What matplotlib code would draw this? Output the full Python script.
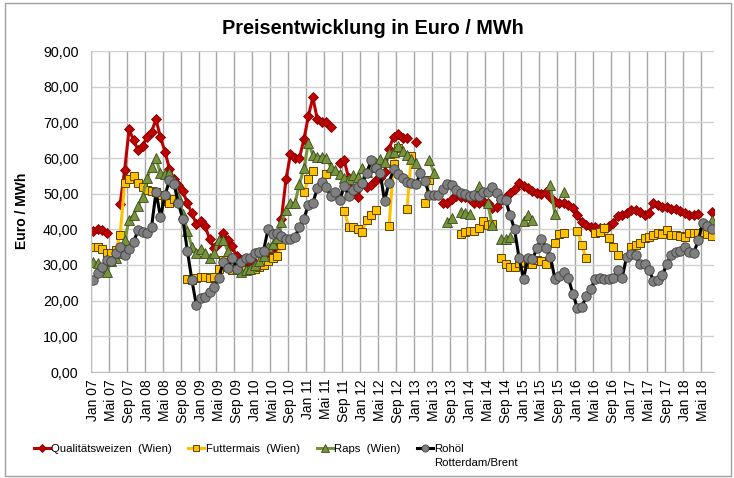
import matplotlib
matplotlib.use("Agg")
import matplotlib.pyplot as plt
import numpy as np
from matplotlib.patches import Rectangle

plt.rcParams['font.family'] = ['Liberation Sans', 'DejaVu Sans']

nan = np.nan

# month labels every 4 months, Jan 07 .. Mai 18
tick_labels = []
for yy in range(7, 19):
    for mm in ["Jan", "Mai", "Sep"]:
        tick_labels.append("%s %02d" % (mm, yy))
tick_labels = tick_labels[:35]

# Qualitätsweizen (Wien), monthly from Jan 07
weizen = [
    39.5, 40.0, 39.8, 38.9, nan, nan, 47.1, 56.6, 68.0, 65.0, 62.2, 63.5,
    65.8, 67.4, 70.8, 65.8, 61.8, 57.0, 54.0, 52.3, 50.7, 47.3, 44.5, 41.4,
    42.4, 40.8, 37.2, 34.7, 36.1, 39.1, 37.0, 35.2, 32.4, 31.3, 31.0, 30.5,
    30.5, 30.0, 30.5, 31.5, 33.0, 35.0, 43.0, 54.0, 61.0, 60.0, 60.0, 65.2,
    71.8, 77.0, 70.8, 70.0, 70.0, 68.6, nan, 58.7, 59.3, 54.3, 50.6, 49.0,
    53.1, 52.0, 52.4, 53.8, 54.5, 56.0, 62.5, 66.0, 66.6, 65.5, 65.5, nan,
    64.4, nan, nan, nan, nan, nan, 47.3, 47.5, 48.5, 49.3, 49.0, 49.2,
    48.4, 47.3, 47.3, 48.0, 47.3, 46.0, 46.3, 48.2, 49.2, 50.3, 51.3, 52.9,
    52.2, 51.6, 50.8, 50.2, 49.8, 50.6, 49.2, 47.8, 47.4, 47.3, 46.9, 45.9,
    44.0, 42.1, 41.3, 40.7, 40.6, 40.5, 40.5, 41.0, 41.7, 43.7, 44.0, 44.7,
    45.5, 45.5, 44.8, 44.0, 44.5, 47.3, 46.8, 46.4, 46.2, 45.8, 45.6, 45.2,
    44.6, 44.1, 44.0, 44.2, nan, nan, 44.8,
]

# Futtermais (Wien)
mais = [
    35.1, 35.0, 34.5, 33.5, 33.3, 34.3, 38.3, 53.0, 54.0, 55.0, 52.9, 52.0,
    51.0, 50.8, 50.5, 49.5, 48.0, 47.3, 48.5, nan, nan, 26.0, 25.8, 26.3,
    26.5, 26.5, 26.3, 26.5, 28.8, 31.4, 29.5, 28.5, 28.5, 28.3, 28.5, 28.5,
    29.0, 29.5, 30.0, 31.0, 32.0, 32.5, 35.6, nan, nan, nan, nan, 50.5,
    54.0, 56.3, nan, nan, 55.5, nan, nan, nan, 45.2, 40.7, 40.7, 40.0,
    39.3, 42.6, 44.0, 45.4, nan, nan, 40.8, 58.3, 62.7, nan, 45.6, 60.5,
    nan, nan, 47.3, 53.8, nan, nan, nan, nan, nan, nan, 38.7, 39.3,
    39.4, 39.5, 40.3, 42.4, 41.2, 41.4, nan, 32.0, 30.2, 29.5, 29.4, 30.5,
    30.9, 30.2, 30.3, 31.4, 31.0, 30.4, nan, 36.2, 38.7, 38.9, nan, nan,
    39.6, 35.6, 31.9, nan, 38.9, 39.3, 40.3, 37.5, 35.1, 32.8, nan, nan,
    35.1, 35.5, 36.1, 37.5, 37.8, 38.3, 38.9, 38.7, 39.8, 38.4, 38.4, 38.2,
    37.9, 39.1, 38.9, 39.1, 39.2, 38.8, 38.1,
]

# Raps (Wien)
raps = [
    30.9, 30.6, 29.2, 28.1, 31.0, 32.0, 33.3, 37.0, 42.6, 44.0, 46.6, 49.2,
    54.3, 57.6, 59.9, 55.7, 55.5, 55.7, 53.5, 49.0, 44.3, 39.5, 35.0, 33.3,
    34.5, 33.3, 31.9, 33.3, 37.1, 37.0, 34.0, 31.5, 28.8, 28.1, 28.5, 29.0,
    30.0, 31.0, 32.5, 35.0, 36.0, 37.5, 42.0, 45.4, 47.3, 47.3, 52.7, 57.1,
    64.3, 60.8, 60.4, 60.4, 59.9, 57.5, 56.5, 55.5, 54.5, 54.0, 55.2, 54.8,
    57.1, 56.0, 57.5, 58.5, 59.8, 59.0, 61.5, 61.7, 63.3, 62.0, 60.8, 59.8,
    58.5, nan, nan, 59.3, 55.9, nan, nan, 42.1, 43.1, nan, 45.0, 44.5,
    44.3, nan, 52.2, nan, 47.5, 41.2, nan, 37.2, 37.2, 37.9, nan, nan,
    42.4, 44.0, 42.6, nan, nan, nan, 52.4, 44.3, nan, 50.6, nan, nan,
    nan, nan, nan, nan, nan, nan, nan, nan, nan, nan, nan, nan,
    nan, nan, nan, nan, nan, nan, nan, nan, nan, nan, nan, nan,
    nan, nan, nan, nan, nan, nan, 42.6,
]

# Rohöl Rotterdam/Brent
oel = [
    25.8, 27.7, 29.5, 31.3, 31.0, 33.3, 35.1, 32.8, 34.6, 36.5, 39.7, 39.3,
    39.0, 40.6, 50.5, 43.5, 49.5, 53.7, 52.8, 47.3, 42.8, 34.0, 25.8, 18.8,
    20.7, 21.1, 22.5, 23.9, 26.4, 30.8, 29.1, 32.0, 29.0, 30.8, 32.0, 32.0,
    33.5, 33.7, 34.0, 40.0, 38.8, 39.0, 38.0, 37.4, 37.2, 37.9, 40.6, 43.0,
    46.8, 47.4, 51.5, 53.3, 51.8, 49.3, 50.6, 48.2, 52.1, 49.3, 51.0, 52.0,
    52.9, 55.7, 59.3, 57.1, 55.9, 48.0, 53.1, 56.8, 55.5, 54.3, 53.4, 53.0,
    52.6, 55.9, 53.6, 49.6, 49.6, 49.6, 51.2, 52.7, 52.4, 51.0, 50.1, 49.9,
    49.3, 49.5, 49.3, 50.6, 50.6, 51.8, 50.1, 48.4, 48.2, 44.0, 40.0, 32.0,
    26.2, 31.9, 31.6, 34.7, 37.4, 34.7, 32.3, 26.2, 27.0, 28.0, 26.3, 22.0,
    18.0, 18.3, 21.2, 23.3, 26.0, 26.3, 26.0, 26.2, 26.3, 28.5, 26.4, 32.3,
    33.2, 32.8, 30.3, 30.3, 28.6, 25.6, 25.9, 27.2, 30.4, 32.7, 33.6, 34.0,
    35.0, 33.6, 33.5, 36.9, 41.9, 40.8, 40.0,
]

x = np.arange(len(oel))

fig = plt.figure(figsize=(7.34, 4.78), dpi=100)
ax = fig.add_axes([91/734, 1-372/478, 623/734, 321/478])

ax.plot(x, weizen, color="#C00000", lw=2.2, marker="D", ms=5.3,
        mfc="#C00000", mec="#7A0000", mew=0.6, label="Qualitätsweizen  (Wien)")
ax.plot(x, mais, color="#FFC000", lw=2.2, marker="s", ms=6.2,
        mfc="#FFC000", mec="#5A4400", mew=0.7, label="Futtermais  (Wien)")
ax.plot(x, raps, color="#77933C", lw=2.2, marker="^", ms=6.8,
        mfc="#77933C", mec="#3C4A1E", mew=0.6, label="Raps  (Wien)")
ax.plot(x, oel, color="black", lw=2.2, marker="o", ms=6.8,
        mfc="#808080", mec="#404040", mew=0.6, label="Rohöl")

ax.set_xlim(-0.5, len(oel) - 0.5)
ax.set_ylim(0, 90)
ax.set_yticks(np.arange(0, 91, 10))
ax.set_yticklabels(["%d,00" % v for v in range(0, 91, 10)], fontsize=10.3)
ax.set_xticks(np.arange(0, len(oel), 4))
ax.set_xticklabels(tick_labels, rotation=90, fontsize=10)
ax.set_xticks(np.arange(-0.5, len(oel) - 1, 4), minor=True)
ax.tick_params(axis="both", which="both", length=0)
ax.tick_params(axis="x", pad=5)
ax.tick_params(axis="y", pad=9)

ax.grid(False)
ax.grid(True, which="minor", axis="x", color="#A6A6A6", lw=1)
ax.grid(True, which="major", axis="y", color="#D0D0D0", lw=1)
ax.set_axisbelow(True)
for side in ["top", "right"]:
    ax.spines[side].set_visible(False)
for side in ["left", "bottom"]:
    ax.spines[side].set_color("#BFBFBF")

fig.text(373/734, 1-28/478, "Preisentwicklung in Euro / MWh", ha="center",
         va="center", fontsize=14.3, fontweight="bold")
fig.text(22/734, 1-211/478, "Euro / MWh", rotation=90, ha="center",
         va="center", fontsize=10, fontweight="bold")

leg = fig.legend(loc="upper left", bbox_to_anchor=(29/734, 1-439/478), ncol=4,
                 frameon=False, fontsize=8.2, handlelength=1.4,
                 handletextpad=0.1, columnspacing=1.5, borderaxespad=0,
                 markerscale=0.75)

fig.canvas.draw()
bb = leg.get_texts()[3].get_window_extent()
fig.text(bb.x0 / 734, (bb.y0 - 4) / 478, "Rotterdam/Brent", ha="left",
         va="top", fontsize=8.2)

fig.patches.append(Rectangle((5/734, 2/478), 726/734, 473/478,
                             transform=fig.transFigure, fill=False,
                             edgecolor="#A0A0A0", lw=1))

fig.savefig("out.png", dpi=100)
